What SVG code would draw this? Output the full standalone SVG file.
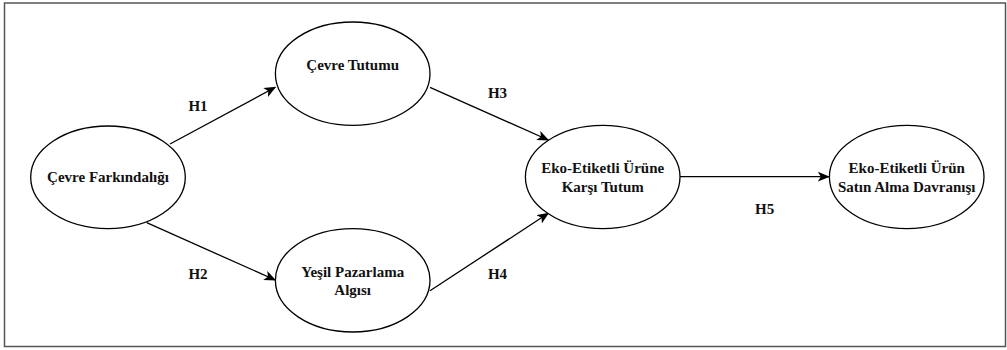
<svg xmlns="http://www.w3.org/2000/svg" width="1007" height="350" viewBox="0 0 1007 350">
  <defs>
    <marker id="arrow" viewBox="0 0 12 10" refX="11" refY="5" markerWidth="12" markerHeight="10" markerUnits="userSpaceOnUse" orient="auto">
      <path d="M0,0 L12,5 L0,10 L3,5 Z" fill="#000"/>
    </marker>
    <style>
      .node ellipse { fill: #fff; stroke: #000; stroke-width: 1.3; }
      .label { font-family: "Liberation Serif", "Times New Roman", serif; font-weight: bold; font-size: 15px; fill: #111; text-anchor: middle; }
      .edge { stroke: #000; stroke-width: 1.3; fill: none; marker-end: url(#arrow); }
    </style>
  </defs>

  <rect x="0" y="0" width="1007" height="350" fill="#fff"/>
  <rect x="4.5" y="3" width="1001" height="343.5" fill="none" stroke="#555" stroke-width="1.5"/>

  <g id="connectors">
    <line class="edge" x1="170" y1="144" x2="275.3" y2="87.3"/>
    <line class="edge" x1="146.7" y1="222.7" x2="275.3" y2="280"/>
    <line class="edge" x1="430" y1="87.3" x2="548.3" y2="140"/>
    <line class="edge" x1="430" y1="290.7" x2="548.3" y2="213.3"/>
    <line class="edge" x1="680" y1="176.7" x2="828.8" y2="176.7"/>
    <text class="label" x="198" y="110.7">H1</text>
    <text class="label" x="198" y="278.7">H2</text>
    <text class="label" x="497.5" y="98">H3</text>
    <text class="label" x="497.5" y="278.7">H4</text>
    <text class="label" x="764.7" y="214">H5</text>
  </g>

  <g id="cevre-farkindaligi" class="node">
    <ellipse cx="108" cy="177.3" rx="77.3" ry="51.3"/>
    <text class="label" x="108" y="182">Çevre Farkındalığı</text>
  </g>

  <g id="cevre-tutumu" class="node">
    <ellipse cx="352.7" cy="73.7" rx="77.3" ry="51.7"/>
    <text class="label" x="352.7" y="70">Çevre Tutumu</text>
  </g>

  <g id="yesil-pazarlama-algisi" class="node">
    <ellipse cx="352.7" cy="280.3" rx="77.3" ry="51.7"/>
    <text class="label" x="352.7" y="276.7">Yeşil Pazarlama</text>
    <text class="label" x="352.7" y="295.3">Algısı</text>
  </g>

  <g id="eko-etiketli-urune-karsi-tutum" class="node">
    <ellipse cx="602.7" cy="177" rx="77.3" ry="51.7"/>
    <text class="label" x="602.7" y="172.7">Eko-Etiketli Ürüne</text>
    <text class="label" x="602.7" y="192">Karşı Tutum</text>
  </g>

  <g id="eko-etiketli-urun-satin-alma" class="node">
    <ellipse cx="906.7" cy="177" rx="77.3" ry="51.7"/>
    <text class="label" x="906.7" y="172.7">Eko-Etiketli Ürün</text>
    <text class="label" x="906.7" y="192">Satın Alma Davranışı</text>
  </g>
</svg>
